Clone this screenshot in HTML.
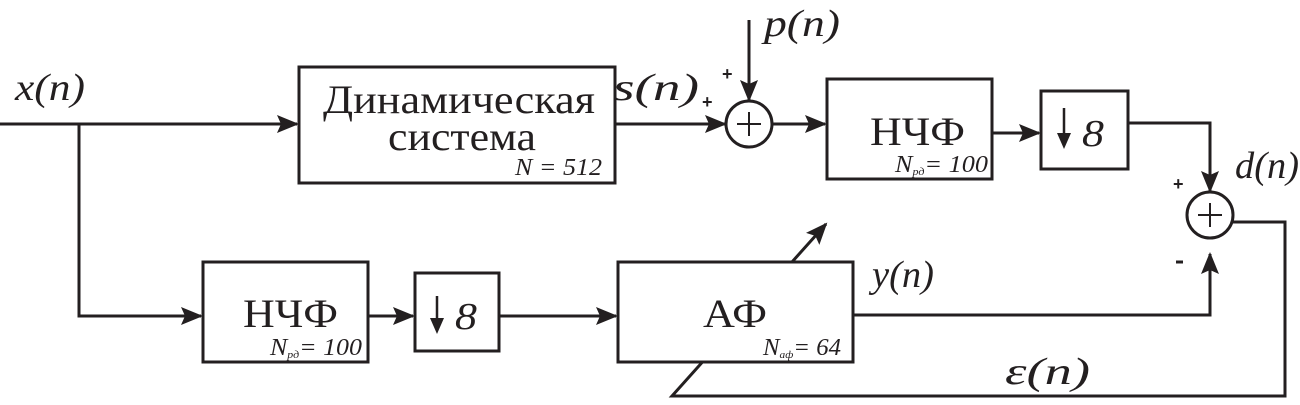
<!DOCTYPE html>
<html><head><meta charset="utf-8"><style>
body{margin:0;background:#fff;width:1300px;height:400px;overflow:hidden}
text{font-family:"Liberation Serif","DejaVu Serif",serif;fill:#231f20}
.i{font-style:italic;font-size:38px}
.b{font-size:40px}
.s{font-style:italic;font-size:24px}
.p{font-family:"Liberation Sans",sans-serif;font-weight:bold;font-size:18px}
</style></head><body>
<svg width="1300" height="400" viewBox="0 0 1300 400">
<defs>
<marker id="A" markerWidth="22" markerHeight="18" refX="20" refY="9" orient="auto" markerUnits="userSpaceOnUse"><path d="M0,0 L22,9 L0,18 L4,9 Z" fill="#231f20"/></marker></defs>
<g stroke="#231f20" stroke-width="3" fill="none">
<line x1="0" y1="124" x2="297" y2="124" marker-end="url(#A)"/>
<polyline points="79,124 79,316 201,316" marker-end="url(#A)"/>
<rect x="299" y="67" width="316" height="116"/>
<line x1="615" y1="124" x2="725" y2="124" marker-end="url(#A)"/>
<line x1="749" y1="20" x2="749" y2="100" marker-end="url(#A)"/>
<circle cx="749" cy="124" r="23"/>
<line x1="772" y1="124" x2="825" y2="124" marker-end="url(#A)"/>
<rect x="827" y="79" width="165" height="100"/>
<line x1="992" y1="133" x2="1039" y2="133" marker-end="url(#A)"/>
<rect x="1041" y="91" width="87" height="78"/>
<polyline points="1128,123 1210,123 1210,191" marker-end="url(#A)"/>
<circle cx="1210" cy="215" r="23"/>
<polyline points="1233,222 1285,222 1285,396 672,396 826,224" marker-end="url(#A)"/>
<rect x="203" y="262" width="165" height="100"/>
<line x1="368" y1="316" x2="413" y2="316" marker-end="url(#A)"/>
<rect x="415" y="273" width="84" height="78"/>
<line x1="499" y1="316" x2="616" y2="316" marker-end="url(#A)"/>
<rect x="618" y="262" width="235" height="100" fill="#fff"/>
<polyline points="853,315 1210,315 1210,254" marker-end="url(#A)"/>
<path d="M749,112 V136 M737,124 H761 M1210,203 V227 M1198,215 H1222" stroke-width="2"/>
<path d="M1064,108 V135 M437,296 V320" stroke-width="2.5"/>
<path d="M1176,262 H1183" stroke-width="3"/>
</g>
<path d="M1057,133 L1064,149 L1071,133 Z M430,318 L437,334 L444,318 Z" fill="#231f20"/>
<text class="i" x="15" y="100" textLength="70" lengthAdjust="spacingAndGlyphs">x(n)</text>
<text class="b" x="323" y="113" textLength="272" lengthAdjust="spacingAndGlyphs">Динамическая</text>
<text class="b" x="388" y="150" textLength="148" lengthAdjust="spacingAndGlyphs">система</text>
<text class="s" x="515" y="175" textLength="87" lengthAdjust="spacingAndGlyphs">N = 512</text>
<text class="i" x="613" y="100" textLength="86" lengthAdjust="spacingAndGlyphs">s(n)</text>
<text class="i" x="764" y="36" textLength="76" lengthAdjust="spacingAndGlyphs">p(n)</text>
<text class="p" x="722" y="80">+</text>
<text class="p" x="702" y="108">+</text>
<text class="b" x="870" y="145" textLength="95" lengthAdjust="spacingAndGlyphs">НЧФ</text>
<text class="s" x="895" y="172" textLength="93" lengthAdjust="spacingAndGlyphs">N<tspan font-size="11" dy="3">рд</tspan><tspan dy="-3">= 100</tspan></text>
<text class="i" x="1082" y="146" textLength="22" lengthAdjust="spacingAndGlyphs">8</text>
<text class="i" x="1235" y="178" textLength="64" lengthAdjust="spacingAndGlyphs">d(n)</text>
<text class="p" x="1173" y="190">+</text>
<text class="b" x="243" y="327" textLength="95" lengthAdjust="spacingAndGlyphs">НЧФ</text>
<text class="s" x="270" y="355" textLength="92" lengthAdjust="spacingAndGlyphs">N<tspan font-size="11" dy="3">рд</tspan><tspan dy="-3">= 100</tspan></text>
<text class="i" x="455" y="329" textLength="22" lengthAdjust="spacingAndGlyphs">8</text>
<text class="b" x="703" y="327" textLength="64" lengthAdjust="spacingAndGlyphs">АФ</text>
<text class="s" x="763" y="355" textLength="78" lengthAdjust="spacingAndGlyphs">N<tspan font-size="11" dy="3">аф</tspan><tspan dy="-3">= 64</tspan></text>
<text class="i" x="872" y="287" textLength="62" lengthAdjust="spacingAndGlyphs">y(n)</text>
<text class="i" x="1005" y="384" textLength="85" lengthAdjust="spacingAndGlyphs">ε(n)</text>
</svg>
</body></html>
